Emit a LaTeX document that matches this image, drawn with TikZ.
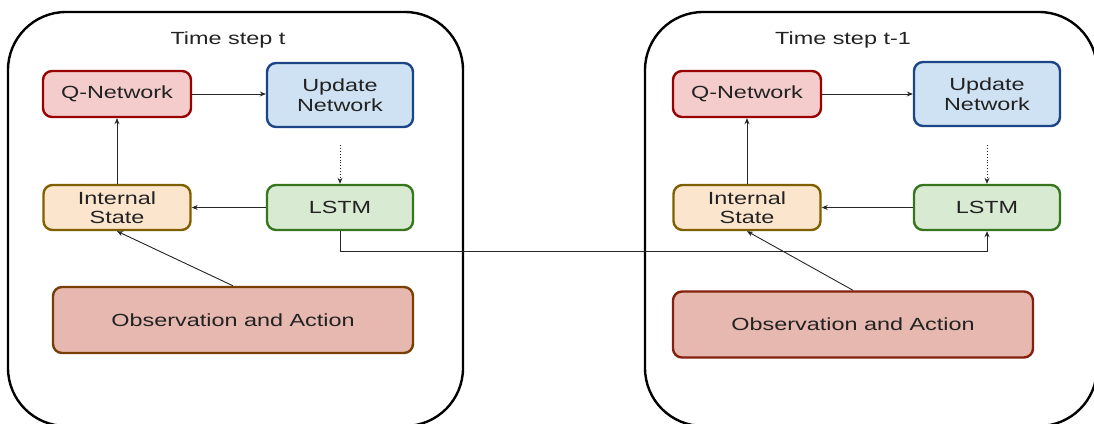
\documentclass[tikz,border=0pt]{standalone}
\usepackage{fontspec}
\setmainfont{Liberation Sans}[FakeStretch=1.33]
\usetikzlibrary{arrows.meta}
\definecolor{txt}{HTML}{222222}
\definecolor{qfill}{HTML}{F4CCCC}\definecolor{qdraw}{HTML}{990000}
\definecolor{ufill}{HTML}{CFE2F3}\definecolor{udraw}{HTML}{1C4587}
\definecolor{ifill}{HTML}{FCE5CD}\definecolor{idraw}{HTML}{7F6000}
\definecolor{lfill}{HTML}{D9EAD3}\definecolor{ldraw}{HTML}{38761D}
\definecolor{ofill}{HTML}{E6B8AF}\definecolor{odrawA}{HTML}{783F04}
\definecolor{odrawB}{HTML}{85200C}
\tikzset{
  box/.style={rectangle, rounded corners=9pt, line width=2.4pt, align=center,
    text=txt, font=\fontsize{17.6}{19.5}\selectfont, inner sep=0pt},
  qbox/.style={box, fill=qfill, draw=qdraw, minimum width=148pt, minimum height=46pt},
  ubox/.style={box, fill=ufill, draw=udraw, minimum width=146pt, minimum height=64pt},
  ibox/.style={box, fill=ifill, draw=idraw, minimum width=147pt, minimum height=45pt},
  lbox/.style={box, fill=lfill, draw=ldraw, minimum width=146pt, minimum height=45pt},
  obox/.style={box, fill=ofill, minimum width=360pt, minimum height=66pt},
  panel/.style={draw=black, line width=2.4pt, rounded corners=58pt},
  title/.style={text=txt, font=\fontsize{17.6}{19.5}\selectfont},
  link/.style={draw=black!85, line width=0.9pt, -{Stealth[length=6pt,width=5pt]}},
  dotlink/.style={link, dotted}
}
\begin{document}
\begin{tikzpicture}[x=1pt, y=-1pt]
\useasboundingbox (0,0) rectangle (1094,423);

% the two time-step frames
\draw[panel] (8,12) rectangle (463,426);
\draw[panel] (645,12) rectangle (1097,426);

% time step t
\node[title] (tt1) at (228,40) {Time step t};
\node[qbox] (qn1) at (117,94) {Q-Network};
\node[ubox] (up1) at (340,95) {Update\\Network};
\node[ibox] (is1) at (117,207.5) {Internal\\State};
\node[lbox] (ls1) at (340,207.5) {LSTM};
\node[obox, draw=odrawA] (ob1) at (233,320) {Observation and Action};
\coordinate (d1) at (340,145);

% time step t-1
\node[title] (tt2) at (843,40) {Time step t-1};
\node[qbox] (qn2) at (747,94) {Q-Network};
\node[ubox] (up2) at (987,94) {Update\\Network};
\node[ibox] (is2) at (747,207.5) {Internal\\State};
\node[lbox] (ls2) at (987,207.5) {LSTM};
\node[obox, draw=odrawB] (ob2) at (853,324.5) {Observation and Action};
\coordinate (d2) at (987,145);

% connectors
\foreach \i in {1,2}{
  \draw[link] (qn\i.east) -- (qn\i.east -| up\i.west);
  \draw[dotlink] (d\i) -- (ls\i.north);
  \draw[link] (ls\i.west) -- (is\i.east);
  \draw[link] (is\i.north) -- (qn\i.south);
  \draw[link] (ob\i.north) -- (is\i.south);
}
\coordinate (c1) at (340,251);
\draw[link] (ls1.south) -- (c1) -| (ls2.south);
\end{tikzpicture}
\end{document}
